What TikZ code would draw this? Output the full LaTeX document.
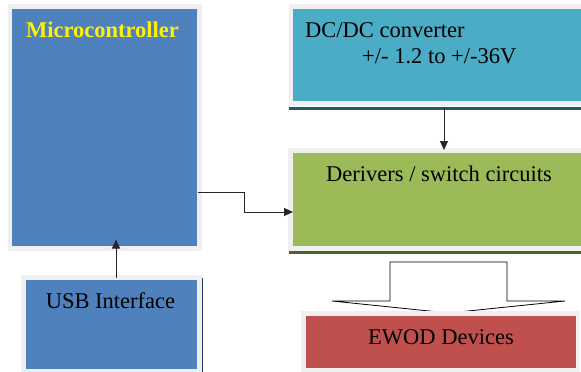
\documentclass[tikz,border=0pt]{standalone}
\usepackage{fontspec}
\setmainfont{Liberation Serif}
\usetikzlibrary{arrows.meta}
\definecolor{mcublue}{HTML}{4F81BD}
\definecolor{dccyan}{HTML}{4BACC6}
\definecolor{drvgreen}{HTML}{9BBB59}
\definecolor{ewodred}{HTML}{C0504D}
\definecolor{framegray}{HTML}{EFEFEF}
\definecolor{tealline}{HTML}{215968}
\definecolor{oliveline}{HTML}{4F6228}
\definecolor{navyline}{HTML}{1F3864}
\begin{document}
\begin{tikzpicture}[x=1pt,y=-1pt,
  block/.style={draw=framegray, line width=4.5pt, inner sep=0pt, outer sep=0pt, anchor=north west},
  lbl/.style={font=\fontsize{22.5}{26}\selectfont, inner sep=0pt},
  conn/.style={draw=black!85, line width=1pt, -{Triangle[length=9pt,width=8pt]}}]
\useasboundingbox (0,0) rectangle (581,372);

% blocks (the two right-hand blocks run past the page edge)
\node[block, fill=mcublue, minimum width=189.5pt, minimum height=242pt] (mcu) at (10,6.5) {};
\node[block, fill=mcublue, minimum width=176pt, minimum height=94pt] (usb) at (23.5,277.5) {};
\node[block, fill=dccyan, minimum width=330pt, minimum height=97pt] (dc) at (291,6.5) {};
\node[block, fill=drvgreen, minimum width=330pt, minimum height=98pt] (drv) at (290.5,150.5) {};

% shadow lines under / beside the blocks
\draw[tealline, line width=3pt] (289,108.5) -- (585,108.5);
\draw[oliveline, line width=3pt] (289,252.5) -- (585,252.5);
\draw[navyline, line width=1.2pt] (202.5,278) -- (202.5,374);

% wide outline arrow from the drivers to the devices
\draw[black, line width=0.8pt, fill=white]
  (390,262) -- (507,262) -- (507,301) -- (565,301) -- (448.5,313)
  -- (332,301) -- (390,301) -- cycle;

\node[block, fill=ewodred, minimum width=274.5pt, minimum height=57pt] (ewod) at (303.5,313.5) {};

% labels
\node[lbl, anchor=base, text=yellow, font=\fontsize{22.5}{26}\selectfont\bfseries] (mcuT) at (102.5,37) {Microcontroller};
\node[lbl, anchor=base] (usbT) at (110.5,308) {USB Interface};
\node[lbl, anchor=base west] (dcT) at (305,37) {DC/DC converter};
\node[lbl, anchor=base west] (dcV) at (362,63) {+/- 1.2 to +/-36V};
\node[lbl, anchor=base] (drvT) at (439,181.5) {Derivers / switch circuits};
\node[lbl, anchor=base] (ewodT) at (441,344) {EWOD Devices};

% connectors
\draw[conn] ([xshift=4.5pt]usb.north) -- ([xshift=11.25pt,yshift=9pt]mcu.south);
\draw[conn] ([xshift=-12pt,yshift=-3pt]dc.south) -- ([xshift=-11.5pt,yshift=0.5pt]drv.north);
\draw[conn] ([xshift=-1.5pt,yshift=-64.5pt]mcu.east) -- ++(46,0) |- ([xshift=2.5pt,yshift=-12.5pt]drv.west);
\end{tikzpicture}
\end{document}
